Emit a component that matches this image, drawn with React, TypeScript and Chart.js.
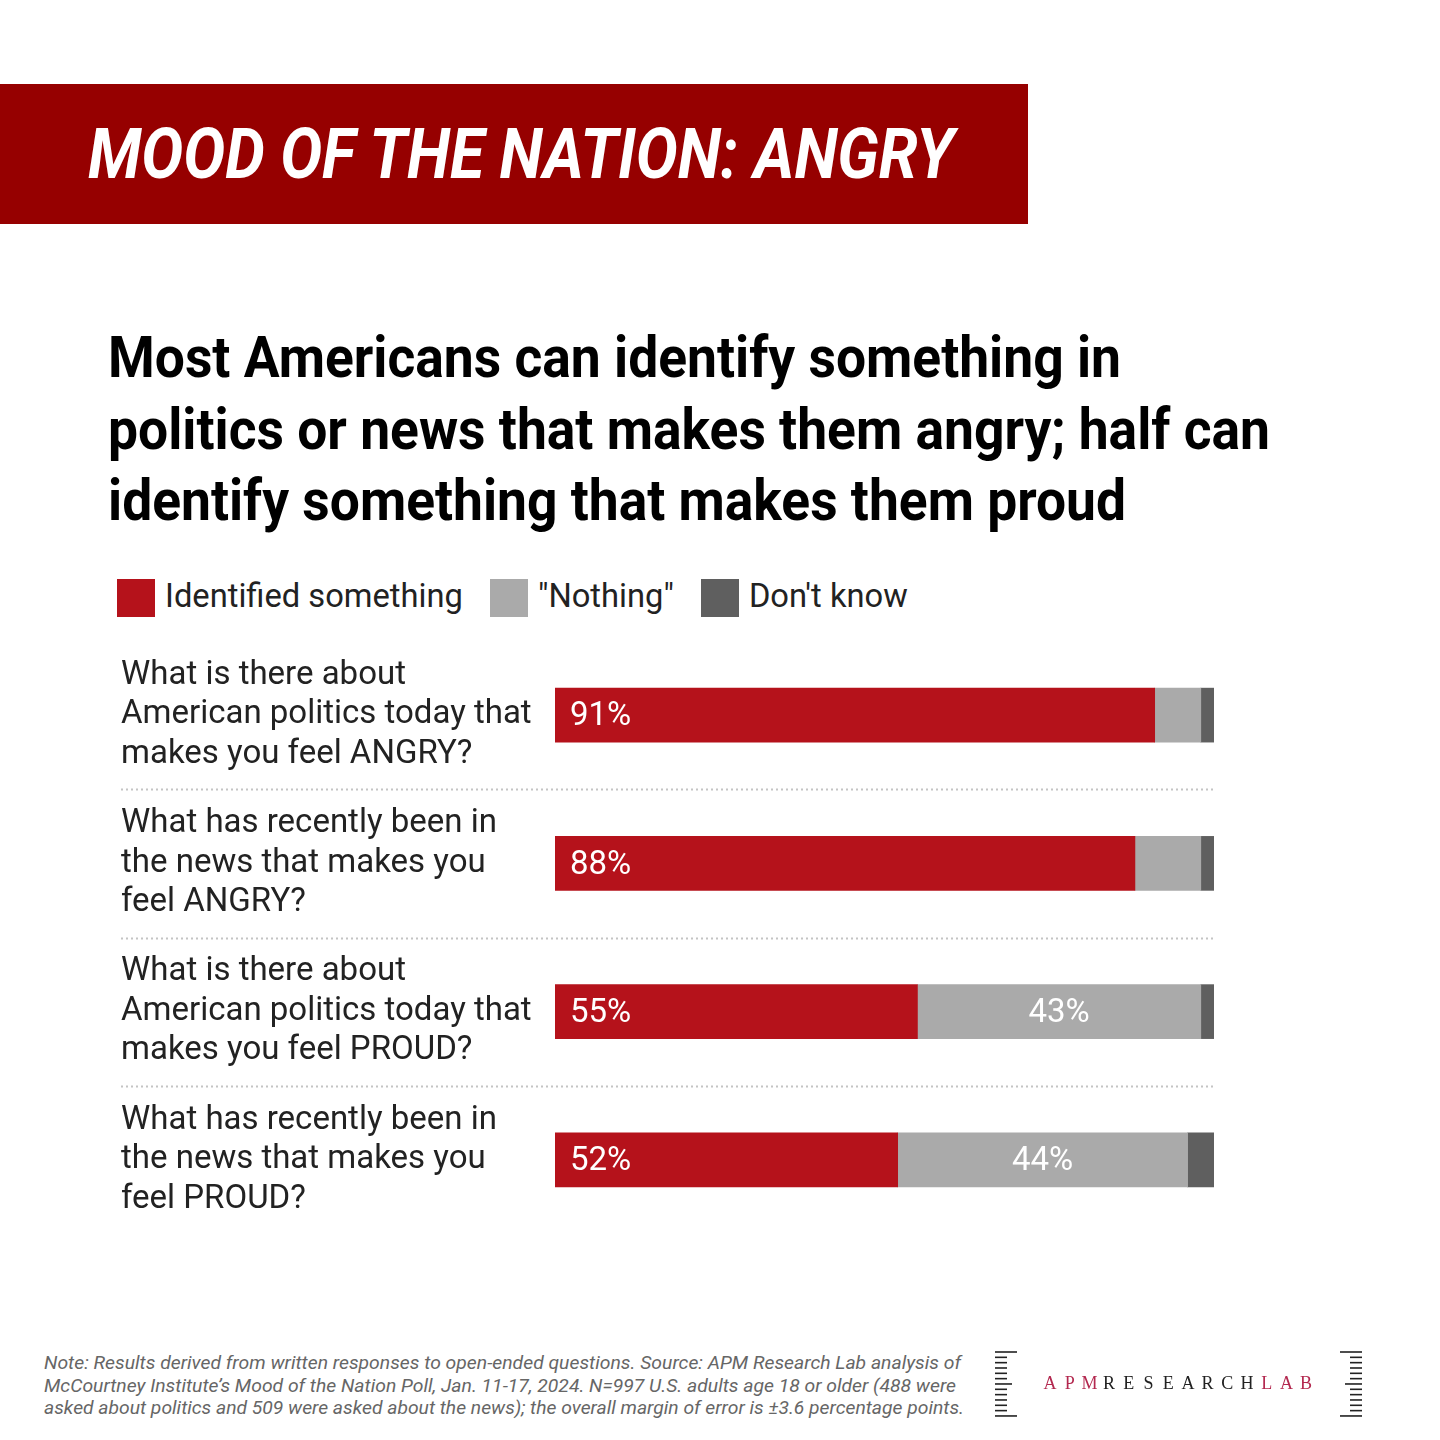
import React, { useEffect, useLayoutEffect, useRef } from "react";
import { Chart, registerables } from "chart.js";

Chart.register(...registerables);

// ---------- data ----------
const questions: string[][] = [
  ["What is there about", "American politics today that", "makes you feel ANGRY?"],
  ["What has recently been in", "the news that makes you", "feel ANGRY?"],
  ["What is there about", "American politics today that", "makes you feel PROUD?"],
  ["What has recently been in", "the news that makes you", "feel PROUD?"],
];
const seriesNames = ["Identified something", "\"Nothing\"", "Don't know"];
const identified = [91, 88, 55, 52];
const nothing = [7, 10, 43, 44];
const dontKnow = [2, 2, 2, 4];
const seriesColors = ["#b5121b", "#aaaaaa", "#5f5f5f"];

const titleText = "MOOD OF THE NATION: ANGRY";
const subtitleLines = [
  "Most Americans can identify something in",
  "politics or news that makes them angry; half can",
  "identify something that makes them proud",
];
const noteLines = [
  "Note: Results derived from written responses to open-ended questions. Source: APM Research Lab analysis of",
  "McCourtney Institute\u2019s Mood of the Nation Poll, Jan. 11-17, 2024. N=997 U.S. adults age 18 or older (488 were",
  "asked about politics and 509 were asked about the news); the overall margin of error is \u00b13.6 percentage points.",
];
const logoLetters = "APMRESEARCHLAB".split("");

// ---------- helpers ----------
function Fit(props: { width: number; style: React.CSSProperties; children: React.ReactNode }) {
  const ref = useRef<HTMLDivElement>(null);
  useLayoutEffect(() => {
    const el = ref.current;
    if (!el) return;
    el.style.transform = "none";
    const w = el.getBoundingClientRect().width;
    if (w > 0) el.style.transform = `scaleX(${props.width / w})`;
  });
  return (
    <div
      ref={ref}
      style={{
        position: "absolute",
        whiteSpace: "nowrap",
        transformOrigin: "0 0",
        display: "inline-block",
        ...props.style,
      }}
    >
      {props.children}
    </div>
  );
}

const separatorPlugin = {
  id: "separators",
  afterDatasetsDraw(chart: any) {
    const y = chart.scales.y;
    const ctx = chart.ctx;
    ctx.save();
    ctx.strokeStyle = "#c4c4c4";
    ctx.lineWidth = 2;
    ctx.setLineDash([2, 3]);
    for (let i = 0; i < questions.length - 1; i++) {
      const py = Math.round((y.getPixelForValue(i) + y.getPixelForValue(i + 1)) / 2) + 0.5;
      ctx.beginPath();
      ctx.moveTo(0, py);
      ctx.lineTo(chart.chartArea.right, py);
      ctx.stroke();
    }
    ctx.restore();
  },
};

const valueLabelPlugin = {
  id: "valueLabels",
  afterDatasetsDraw(chart: any) {
    const ctx = chart.ctx;
    ctx.save();
    ctx.font = "400 33px Roboto";
    ctx.fillStyle = "#ffffff";
    ctx.textBaseline = "middle";
    chart.data.datasets.forEach((ds: any, di: number) => {
      const meta = chart.getDatasetMeta(di);
      meta.data.forEach((el: any, i: number) => {
        const v = ds.data[i];
        if (di === 0) {
          ctx.textAlign = "left";
          ctx.fillText(`${v}%`, Math.min(el.base, el.x) + 15, el.y + 2);
        } else if (di === 1 && v >= 20) {
          ctx.textAlign = "center";
          ctx.fillText(`${v}%`, (el.base + el.x) / 2, el.y + 2);
        }
      });
    });
    ctx.restore();
  },
};

function BarChart() {
  const ref = useRef<HTMLCanvasElement>(null);
  useEffect(() => {
    if (!ref.current) return;
    const values = [identified, nothing, dontKnow];
    const chart = new Chart(ref.current, {
      type: "bar",
      data: {
        labels: questions,
        datasets: seriesNames.map((name, i) => ({
          label: name,
          data: values[i],
          backgroundColor: seriesColors[i],
          borderWidth: 0,
          barThickness: 54,
        })),
      },
      options: {
        indexAxis: "y",
        responsive: false,
        maintainAspectRatio: false,
        animation: false,
        layout: { padding: 0 },
        scales: {
          x: { stacked: true, min: 0, max: 100, display: false },
          y: {
            stacked: true,
            grid: { display: false, drawTicks: false },
            border: { display: false },
            ticks: {
              crossAlign: "far",
              padding: 0,
              color: "#222222",
              font: { family: "Roboto", size: 33, lineHeight: 1.2 },
            },
            afterFit(scale: any) {
              scale.width = 434;
              scale.paddingTop = 0;
              scale.paddingBottom = 0;
            },
          },
        },
        plugins: {
          legend: { display: false },
          tooltip: { enabled: false },
        },
      } as any,
      plugins: [separatorPlugin, valueLabelPlugin],
    });
    return () => chart.destroy();
  }, []);
  return (
    <canvas
      ref={ref}
      width={1093}
      height={593}
      style={{ position: "absolute", left: 121, top: 641, width: 1093, height: 593 }}
    />
  );
}

function Logo() {
  const tick = (x1: number, x2: number, y: number, k: string) => (
    <line key={k} x1={x1} x2={x2} y1={y} y2={y} stroke="#222" strokeWidth={1.6} />
  );
  const rows = Array.from({ length: 13 }, (_, i) => 1352 + i * 5.33);
  return (
    <svg
      width={1440}
      height={1440}
      style={{ position: "absolute", left: 0, top: 0, pointerEvents: "none" }}
    >
      {rows.map((y, i) => {
        const long = i === 0 || i === 12;
        const mid = i === 6;
        const lx2 = long ? 1017 : mid ? 1012 : 1007;
        const rx1 = long ? 1340 : mid ? 1345 : 1350;
        return (
          <g key={i}>
            {tick(995, lx2, y, "l" + i)}
            {tick(rx1, 1362, y, "r" + i)}
          </g>
        );
      })}
      {logoLetters.map((c, i) => (
        <text
          key={i}
          x={1050 + i * 19.7}
          y={1389}
          textAnchor="middle"
          fontFamily="Liberation Serif, serif"
          fontSize={18}
          fill={i < 3 || i > 10 ? "#b3284f" : "#222222"}
        >
          {c}
        </text>
      ))}
    </svg>
  );
}

export default function App() {
  return (
    <div
      style={{
        position: "absolute",
        left: 0,
        top: 0,
        width: 1440,
        height: 1440,
        background: "#ffffff",
        overflow: "hidden",
        fontFamily: "Roboto, sans-serif",
      }}
    >
      <div
        style={{ position: "absolute", left: 0, top: 84, width: 1028, height: 140, background: "#960000" }}
      />
      <Fit
        width={866}
        style={{
          left: 88,
          top: 119,
          fontSize: 70,
          lineHeight: "70px",
          fontWeight: 700,
          fontStyle: "italic",
          color: "#ffffff",
        }}
      >
        {titleText}
      </Fit>

      {subtitleLines.map((t, i) => (
        <Fit
          key={i}
          width={[1013, 1162, 1018][i]}
          style={{
            left: 108,
            top: 321 + i * 71.5,
            fontSize: 58,
            lineHeight: "72px",
            fontWeight: 700,
            color: "#000000",
          }}
        >
          {t}
        </Fit>
      ))}

      <div
        style={{
          position: "absolute",
          left: 117,
          top: 579,
          height: 38,
          display: "flex",
          alignItems: "center",
          fontSize: 32.7,
          color: "#222222",
          whiteSpace: "nowrap",
        }}
      >
        {seriesNames.map((n, i) => (
          <div key={i} style={{ display: "flex", alignItems: "center", marginRight: 27 }}>
            <div style={{ width: 38, height: 38, background: seriesColors[i], marginRight: 10 }} />
            <span style={{ position: "relative", top: -2 }}>{n}</span>
          </div>
        ))}
      </div>

      <BarChart />

      {noteLines.map((t, i) => (
        <Fit
          key={i}
          width={[917, 912, 920][i]}
          style={{
            left: 44,
            top: 1352 + i * 22.5,
            fontSize: 19,
            lineHeight: "22.5px",
            fontStyle: "italic",
            color: "#666666",
          }}
        >
          {t}
        </Fit>
      ))}

      <Logo />
    </div>
  );
}
